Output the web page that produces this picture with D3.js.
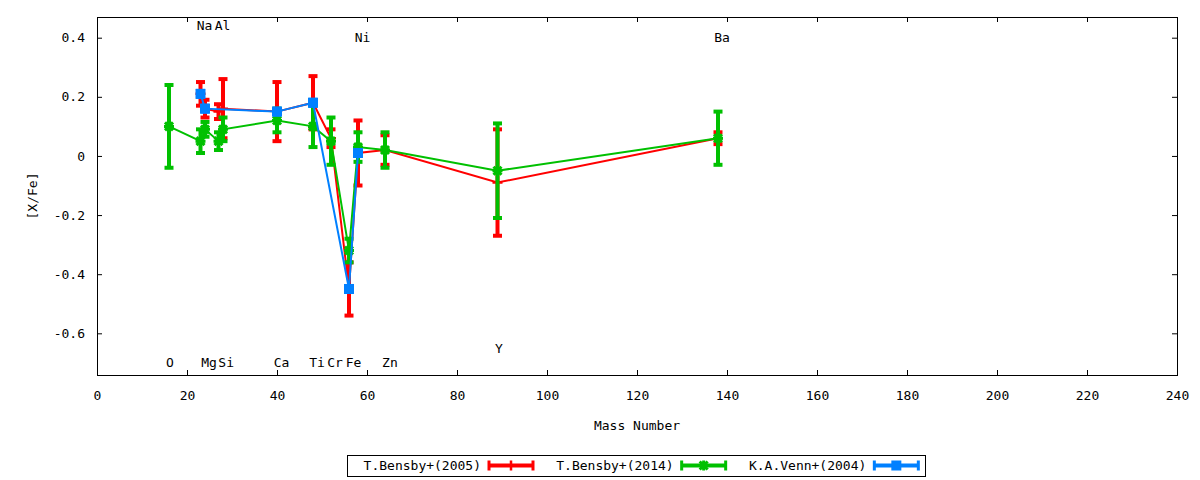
<!DOCTYPE html>
<html><head><meta charset="utf-8">
<script src="https://cdn.jsdelivr.net/npm/d3@7"></script>
<style>
body{margin:0;background:#fff}
text{font-family:"DejaVu Sans Mono",monospace;font-size:13px;fill:#000}
</style>
</head><body>
<svg id="chart" width="1200" height="480"></svg>
<script>
// ---- data ----
const xTicks = [0,20,40,60,80,100,120,140,160,180,200,220,240];
const yTicks = [-0.6,-0.4,-0.2,0,0.2,0.4];
const seriesNames = ["T.Bensby+(2005)","T.Bensby+(2014)","K.A.Venn+(2004)"];
const seriesColors = ["#ff0000","#00c000","#0080ff"];
const seriesMarkers = ["plus","star","square"];

const bensby2005Mass = [23,24,27,28,40,48,52,56,58,64,89,138];
const bensby2005Val  = [0.21,0.16,0.15,0.16,0.15,0.18,0.06,-0.45,0.01,0.02,-0.09,0.06];
const bensby2005Err  = [0.04,0.03,0.025,0.10,0.10,0.09,0.03,0.09,0.11,0.05,0.18,0.02];

const bensby2014Mass = [16,23,24,27,28,40,48,52,56,58,64,89,138];
const bensby2014Val  = [0.10,0.05,0.09,0.05,0.09,0.12,0.10,0.05,-0.32,0.03,0.02,-0.05,0.06];
const bensby2014Err  = [0.14,0.04,0.025,0.03,0.04,0.04,0.07,0.08,0.04,0.05,0.06,0.16,0.09];

const venn2004Mass = [23,24,40,48,56,58];
const venn2004Val  = [0.21,0.16,0.15,0.18,-0.45,0.01];
const venn2004Err  = [0.01,0.01,0.01,0.01,0.01,0.01];

const labelNames = ["O","Na","Mg","Al","Si","Ca","Ti","Cr","Fe","Ni","Zn","Y","Ba"];
const labelX     = [16.2,23.9,24.9,27.9,28.7,41.0,48.9,52.9,57.0,59.0,65.1,89.3,138.9];
const labelY     = [-0.70,0.44,-0.70,0.44,-0.70,-0.70,-0.70,-0.70,-0.70,0.40,-0.70,-0.65,0.40];

const xDomain = [0,240];
const yDomain = [-0.741,0.47];

// ---- layout ----
const svg = d3.select("#chart");
const L=97, R=1177, T=17, B=375;
const x = d3.scaleLinear().domain(xDomain).range([L,R]);
const y = d3.scaleLinear().domain(yDomain).range([B,T]);

const series = [
  {mass:bensby2005Mass,val:bensby2005Val,err:bensby2005Err},
  {mass:bensby2014Mass,val:bensby2014Val,err:bensby2014Err},
  {mass:venn2004Mass,val:venn2004Val,err:venn2004Err}
].map((s,i)=>({name:seriesNames[i],color:seriesColors[i],marker:seriesMarkers[i],
  pts:s.mass.map((m,j)=>({m:m,v:s.val[j],e:s.err[j]}))}));

// axes
const tickFmtY = d => d===0 ? "0" : d.toFixed(1);
const gx = svg.append("g").attr("transform",`translate(0,${B})`)
  .call(d3.axisBottom(x).tickValues(xTicks).tickSize(-5).tickPadding(16).tickFormat(d=>String(d)));
const gxt = svg.append("g").attr("transform",`translate(0,${T})`)
  .call(d3.axisTop(x).tickValues(xTicks).tickSize(-5).tickFormat(""));
const gy = svg.append("g").attr("transform",`translate(${L},0)`)
  .call(d3.axisLeft(y).tickValues(yTicks).tickSize(-5).tickPadding(12).tickFormat(tickFmtY));
const gyr = svg.append("g").attr("transform",`translate(${R},0)`)
  .call(d3.axisRight(y).tickValues(yTicks).tickSize(-5).tickFormat(""));
[gx,gxt,gy,gyr].forEach(g=>{
  g.select(".domain").remove();
  g.selectAll("line").attr("stroke","#000");
  g.selectAll("text").attr("font-family","DejaVu Sans Mono").attr("font-size",13).attr("fill","#000");
});
svg.append("rect").attr("x",L).attr("y",T).attr("width",R-L).attr("height",B-T)
  .attr("fill","none").attr("stroke","#000").attr("stroke-width",1).attr("shape-rendering","crispEdges");

// axis titles
svg.append("text").attr("x",(L+R)/2).attr("y",425).attr("dy","0.35em")
  .attr("text-anchor","middle").text("Mass Number");
svg.append("text").attr("transform",`translate(32,${(T+B)/2}) rotate(-90)`).attr("dy","0.35em")
  .attr("text-anchor","middle").text("[X/Fe]");

// element labels
svg.append("g").selectAll("text").data(labelNames).join("text")
  .attr("x",(d,i)=>x(labelX[i])).attr("y",(d,i)=>y(labelY[i])).attr("dy","0.35em")
  .attr("text-anchor","middle").text(d=>d);

// marker drawing
function drawMarker(g,type,cx,cy,color){
  if(type==="square"){
    g.append("rect").attr("x",cx-5).attr("y",cy-5).attr("width",10).attr("height",10).attr("fill",color);
  } else if(type==="plus"){
    g.append("path").attr("d",`M${cx-5},${cy}H${cx+5}M${cx},${cy-5}V${cy+5}`)
      .attr("stroke",color).attr("stroke-width",2.5).attr("fill","none");
  } else {
    g.append("path").attr("d",`M${cx-5},${cy}H${cx+5}M${cx},${cy-5}V${cy+5}M${cx-4},${cy-4}L${cx+4},${cy+4}M${cx-4},${cy+4}L${cx+4},${cy-4}`)
      .attr("stroke",color).attr("stroke-width",3).attr("fill","none");
  }
}

const line = d3.line().x(d=>x(d.m)).y(d=>y(d.v));
series.forEach(s=>{
  const g = svg.append("g");
  // error bars
  s.pts.forEach(p=>{
    const px=x(p.m), y1=y(p.v-p.e), y2=y(p.v+p.e);
    g.append("line").attr("x1",px).attr("x2",px).attr("y1",y1).attr("y2",y2)
      .attr("stroke",s.color).attr("stroke-width",4);
    [y1,y2].forEach(yy=>g.append("line").attr("x1",px-4.5).attr("x2",px+4.5).attr("y1",yy).attr("y2",yy)
      .attr("stroke",s.color).attr("stroke-width",4));
  });
  g.append("path").attr("d",line(s.pts)).attr("fill","none").attr("stroke",s.color).attr("stroke-width",2);
  s.pts.forEach(p=>drawMarker(g,s.marker,x(p.m),y(p.v),s.color));
});

// legend
const legL=347, legT=455, legW=578, legH=21, entryW=legW/3;
svg.append("rect").attr("x",legL).attr("y",legT).attr("width",legW).attr("height",legH)
  .attr("fill","#fff").attr("stroke","#000").attr("stroke-width",1).attr("shape-rendering","crispEdges");
series.forEach((s,i)=>{
  const ox = legL + i*entryW, cy = legT+legH/2;
  const g = svg.append("g");
  g.append("text").attr("x",ox+134).attr("y",cy).attr("dy","0.35em").attr("text-anchor","end").text(s.name);
  const sx1=ox+142, sx2=ox+186;
  g.append("line").attr("x1",sx1).attr("x2",sx2).attr("y1",cy).attr("y2",cy).attr("stroke",s.color).attr("stroke-width",4);
  [sx1,sx2].forEach(xx=>g.append("line").attr("x1",xx).attr("x2",xx).attr("y1",cy-5).attr("y2",cy+5)
    .attr("stroke",s.color).attr("stroke-width",3));
  drawMarker(g,s.marker,(sx1+sx2)/2,cy,s.color);
});
</script>
</body></html>
